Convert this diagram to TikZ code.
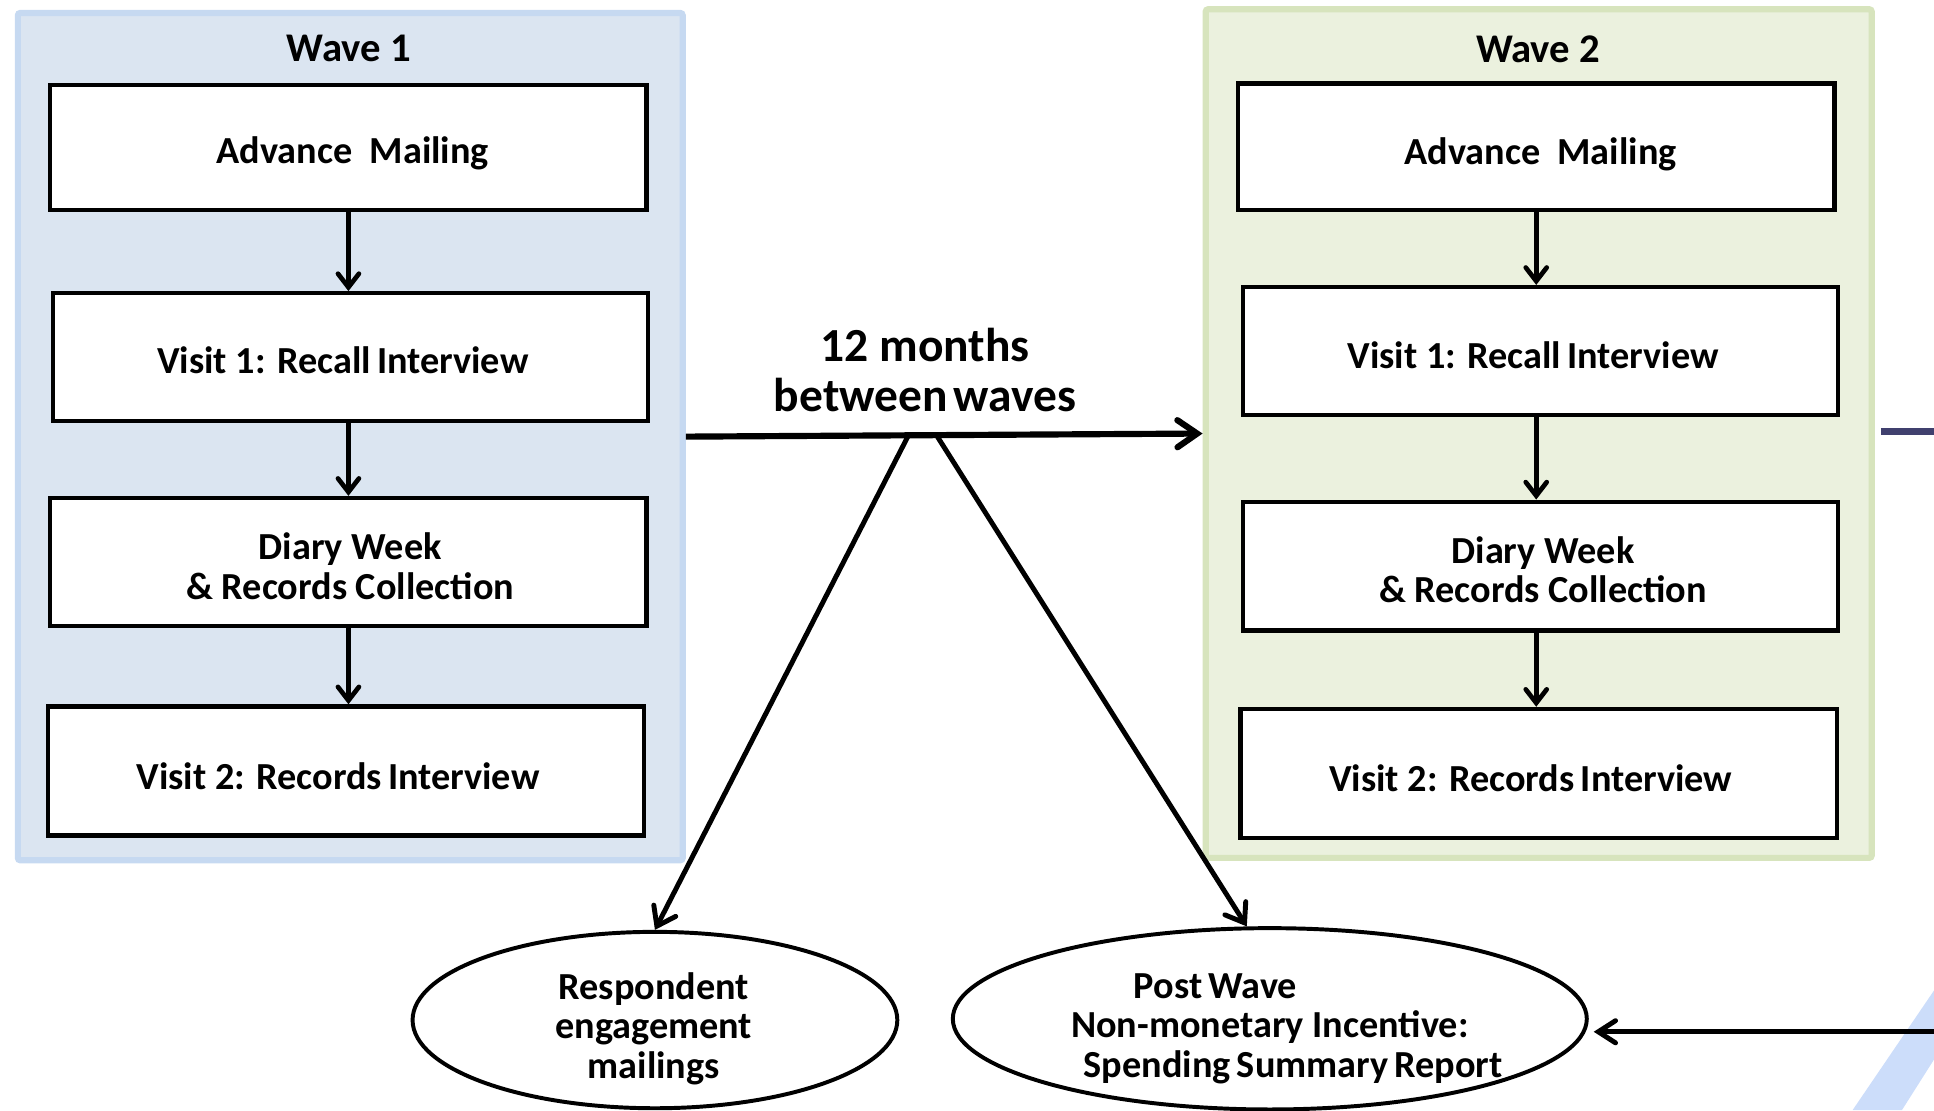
\documentclass[tikz,border=0pt]{standalone}
\usepackage{fontspec}
\setmainfont{Carlito}
\usetikzlibrary{arrows.meta,shapes.geometric}
\definecolor{wAfill}{RGB}{219,229,241}
\definecolor{wAline}{RGB}{198,217,241}
\definecolor{wBfill}{RGB}{235,241,222}
\definecolor{wBline}{RGB}{215,228,189}
\definecolor{navy}{RGB}{64,64,110}
\definecolor{band}{RGB}{204,221,250}
\tikzset{
  panel/.style={draw, line width=2.5pt, rounded corners=1pt, inner sep=0pt},
  box/.style={draw=black, fill=white, line width=1.75pt, inner sep=0pt},
  boxtext/.style={inner sep=0pt, align=center, font=\fontsize{15.5}{16}\selectfont\bfseries},
  wtitle/.style={inner sep=0pt, font=\fontsize{16.5}{17}\selectfont\bfseries},
  gap/.style={inner sep=0pt, align=center, font=\fontsize{19.25}{20}\selectfont\bfseries},
  oval/.style={ellipse, draw=black, fill=white, line width=1.6pt, inner sep=0pt},
  flow/.style={line width=1.9pt, -{Straight Barb[length=5.5pt,width=8.5pt,line cap=round]}},
  bigarrow/.style={line width=2.5pt, -{Straight Barb[length=8pt,width=11pt,line cap=round]}},
  diagarrow/.style={line width=2pt, -{Straight Barb[length=7pt,width=10pt,line cap=round]}},
}
\begin{document}
\begin{tikzpicture}[x=0.5pt,y=-0.5pt]
\useasboundingbox (0,0) rectangle (1568,900);
% panels
\node[panel, draw=wAline, fill=wAfill, minimum width=269.5pt, minimum height=343.5pt] (wave1) at (284,354) {};
\node[panel, draw=wBline, fill=wBfill, minimum width=270pt, minimum height=344pt] (wave2) at (1247.5,351.5) {};
\node[wtitle] (t1) at (283,39) {Wave 1};
\node[wtitle] (t2) at (1247,40) {Wave 2};
% wave 1 boxes
\node[box, minimum width=241.75pt, minimum height=50.75pt] (a1) at (282.5,119.5) {};
\node[box, minimum width=241.25pt, minimum height=51.75pt] (b1) at (284,289.5) {};
\node[box, minimum width=241.75pt, minimum height=51.75pt] (c1) at (282.5,455.5) {};
\node[box, minimum width=241.75pt, minimum height=52.25pt] (d1) at (280.5,625) {};
\node[boxtext] (a1t) at (286,124) {Advance\ \ Mailing};
\node[boxtext] (b1t) at (278,292) {Visit 1: Recall\kern-1pt\ Interview};
\node[boxtext] (c1t) at (284,459) {Diary Week\\\& Records Collection};
\node[boxtext] (d1t) at (274,629) {Visit 2: Records\kern-1pt\ Interview};
% wave 2 boxes
\node[box, minimum width=241.75pt, minimum height=51.25pt] (a2) at (1245.5,119) {};
\node[box, minimum width=241.25pt, minimum height=51.75pt] (b2) at (1249,284.5) {};
\node[box, minimum width=241.25pt, minimum height=52.25pt] (c2) at (1249,459) {};
\node[box, minimum width=241.75pt, minimum height=52.25pt] (d2) at (1247.5,627) {};
\node[boxtext] (a2t) at (1249,125) {Advance\ \ Mailing};
\node[boxtext] (b2t) at (1243,288) {Visit 1: Recall\kern-1pt\ Interview};
\node[boxtext] (c2t) at (1251,462) {Diary Week\\\& Records Collection};
\node[boxtext] (d2t) at (1241,631) {Visit 2: Records\kern-1pt\ Interview};
% flow arrows
\draw[flow] (a1.south) -- (a1.south |- b1.north);
\draw[flow] (a1.south |- b1.south) -- (a1.south |- c1.north);
\draw[flow] (a1.south |- c1.south) -- (a1.south |- d1.north);
\draw[flow] (a2.south) -- (a2.south |- b2.north);
\draw[flow] (a2.south |- b2.south) -- (a2.south |- c2.north);
\draw[flow] (a2.south |- c2.south) -- (a2.south |- d2.north);
% between waves
\node[gap] (gaptext) at (750,300) {12 months\\between\kern-2pt\ waves};
\draw[bigarrow] (wave1.east) -- (wave2.west);
% ellipses
\node[oval, minimum width=196.5pt, minimum height=71.5pt] (resp) at (531,827) {};
\node[boxtext] (respt) at (530,834) {Respondent\\engagement\\mailings};
\node[oval, minimum width=257pt, minimum height=73.5pt] (post) at (1029.5,826) {};
\node[boxtext] (postt) at (1029.5,834)
  {Post\kern-1pt\ Wave\hspace*{44pt}\\Non-monetary Incentive:\hspace*{18pt}\\\hspace*{19pt}Spending\kern-1pt\ Summary\kern-1pt\ Report};
\coordinate (s1) at (736,354);
\coordinate (s2) at (760,354);
\draw[diagarrow] (s1) -- (resp.north);
\draw[diagarrow] (s2) -- (post.104);
% right-side elements
\fill[band] (1568,803) -- (1502,900) -- (1542,900) -- (1568,859) -- cycle;
\coordinate (navyend) at (1568,350);
\draw[navy, line width=3pt] ([xshift=2.5pt]wave2.east |- navyend) -- (navyend);
\coordinate (inright) at (1568,836.5);
\draw[line width=2pt, -{Straight Barb[length=7pt,width=9pt,line cap=round]}] (inright) -- ([xshift=2pt]post.east |- inright);
\end{tikzpicture}
\end{document}
